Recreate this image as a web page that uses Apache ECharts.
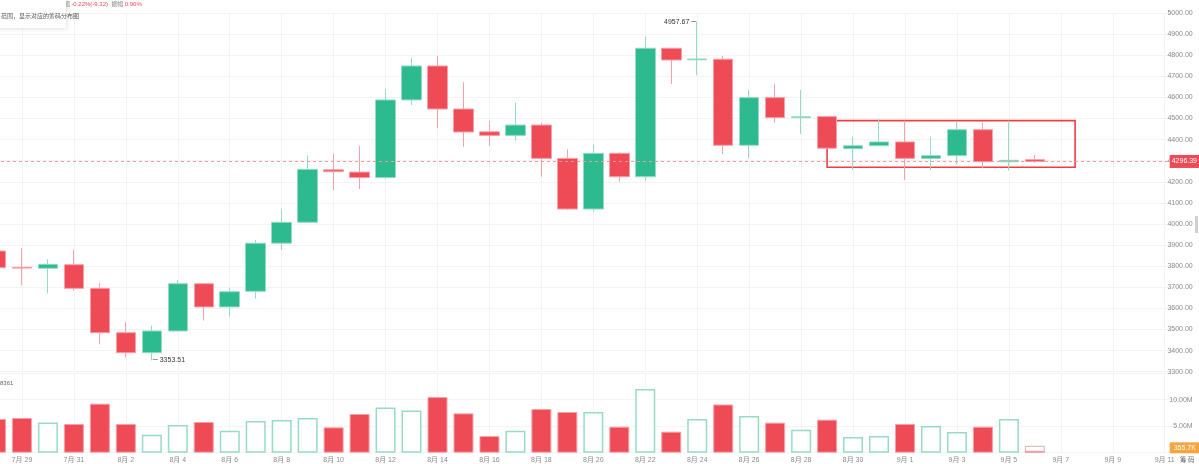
<!DOCTYPE html>
<html>
<head>
<meta charset="utf-8">
<script src="https://cdn.jsdelivr.net/npm/echarts@6/dist/echarts.min.js"></script>
<style>
html,body{margin:0;padding:0;background:#fff;}
#main{width:1199px;height:464px;}
</style>
</head>
<body>
<div id="main"></div>
<script>
// ---- data ----
const categories = [
  '7月 28','7月 29','7月 30','7月 31',
  '8月 1','8月 2','8月 3','8月 4','8月 5','8月 6','8月 7','8月 8','8月 9','8月 10',
  '8月 11','8月 12','8月 13','8月 14','8月 15','8月 16','8月 17','8月 18','8月 19','8月 20',
  '8月 21','8月 22','8月 23','8月 24','8月 25','8月 26','8月 27','8月 28','8月 29','8月 30','8月 31',
  '9月 1','9月 2','9月 3','9月 4','9月 5','9月 6','9月 7','9月 8','9月 9','9月 10','9月 11'
];
// open, close, low, high
const opens  = [3872,3795,3790,3807,3695,3485,3390,3493,3717,3607,3681,3909,4008,4257,4246,4220,4588,4749,4545,4437,4420,4469,4311,4071,4335,4224,4833,4778,4781,4373,4599,4504,4509,4357,4371,4389,4311,4324,4447,4295,4305];
const closes = [3793,3791,3809,3695,3485,3390,3493,3717,3607,3679,3909,4008,4259,4248,4220,4588,4749,4545,4436,4420,4469,4311,4071,4335,4224,4833,4777,4782,4373,4599,4504,4508,4359,4371,4389,4311,4324,4447,4295,4302,4296.39];
const lows   = [3780,3711,3670,3683,3430,3368,3353.51,3490,3542,3561,3646,3877,4005,4161,4166,4212,4564,4454,4366,4371,4395,4224,4066,4058,4201,4205,4664,4705,4332,4311,4480,4427,4355,4256,4369,4209,4256,4283,4264,4253,4289];
const highs  = [3890,3885,3833,3877,3719,3534,3518,3735,3720,3697,3924,4070,4326,4332,4370,4640,4785,4796,4672,4488,4575,4480,4354,4376,4340,4888,4835,4957.67,4796,4635,4664,4635,4512,4414,4498,4490,4414,4488,4479,4490,4327];
// volume (shares)
const volumes = [6.36e6,6.55e6,5.72e6,5.42e6,9.25e6,5.42e6,3.40e6,5.22e6,5.79e6,4.15e6,5.98e6,6.17e6,6.55e6,4.78e6,7.30e6,8.55e6,7.98e6,10.50e6,7.42e6,3.15e6,4.15e6,8.24e6,7.68e6,7.68e6,4.90e6,12.00e6,3.96e6,6.36e6,9.10e6,6.92e6,5.66e6,4.34e6,6.23e6,2.96e6,3.15e6,5.42e6,5.04e6,3.90e6,4.90e6,6.36e6,355.7e3];
const estVolumeIndex = [40];
const estVolumeValue = [1.32e6];
const priceTicks = [3300, 5000, 100];
const volumeTicks = [0, 15e6, 5e6];
const lastPrice = [4296.39];
const lastVolume = [355.7e3];
const boxX = [32, 41.55];
const boxY = [4490, 4269];

// ---- styles ----
const RED = '#ef4b57', RED_L = '#f6a0a8';
const GREEN = '#2dba8f', GREEN_L = '#96dcc5';
const GRID_LINE = '#f3f3f3';
const LABEL = '#8c8c8c';
const FONT = 'Liberation Sans, Noto Sans CJK SC, sans-serif';

const candleData = opens.map((o, i) => [o, closes[i], lows[i], highs[i]]);
const volData = volumes.map((v, i) => {
  const up = closes[i] >= opens[i];
  return {
    value: v,
    itemStyle: up
      ? { color: '#ffffff', borderColor: GREEN_L, borderWidth: 1.5 }
      : { color: RED, borderColor: RED_L, borderWidth: 1 }
  };
});
const estData = categories.map((c, i) => {
  const k = estVolumeIndex.indexOf(i);
  return k >= 0 ? estVolumeValue[k] : '-';
});

const maxHigh = Math.max(...highs);
const minLow = Math.min(...lows);
const maxIdx = highs.indexOf(maxHigh);
const minIdx = lows.indexOf(minLow);

const oddOnly = (idx) => idx % 2 === 1;

const chart = echarts.init(document.getElementById('main'), null, { renderer: 'canvas' });
const option = {
  animation: false,
  textStyle: { fontFamily: FONT },
  grid: [
    { left: -17, right: 21.3, top: 13, height: 358.7, containLabel: false, outerBoundsMode: 'none' },
    { left: -17, right: 21.3, top: 373.2, height: 79.5, containLabel: false, outerBoundsMode: 'none' }
  ],
  xAxis: [
    { type: 'category', gridIndex: 0, data: categories, boundaryGap: true,
      axisLine: { show: false }, axisTick: { show: false }, axisLabel: { show: false },
      splitLine: { show: true, interval: oddOnly, alignWithLabel: true, lineStyle: { color: GRID_LINE } } },
    { type: 'category', gridIndex: 1, data: categories, boundaryGap: true,
      axisLine: { show: false }, axisTick: { show: false },
      axisLabel: { interval: oddOnly, fontSize: 7, color: LABEL, margin: 4, fontFamily: FONT },
      splitLine: { show: true, interval: oddOnly, alignWithLabel: true, lineStyle: { color: GRID_LINE } } },
    { type: 'value', gridIndex: 0, min: -0.5, max: categories.length - 0.5, show: false, position: 'top' }
  ],
  yAxis: [
    { type: 'value', gridIndex: 0, position: 'right', min: priceTicks[0], max: priceTicks[1], interval: priceTicks[2],
      axisLine: { show: false }, axisTick: { show: false },
      axisLabel: { fontSize: 7, color: LABEL, align: 'right', margin: 15, formatter: v => v.toFixed(2) },
      splitLine: { lineStyle: { color: GRID_LINE } } },
    { type: 'value', gridIndex: 1, position: 'right', min: volumeTicks[0], max: volumeTicks[1], interval: volumeTicks[2],
      axisLine: { show: false }, axisTick: { show: false },
      axisLabel: { fontSize: 7, color: LABEL, align: 'right', margin: 15, showMinLabel: false, showMaxLabel: false,
        formatter: v => (v / 1e6).toFixed(2) + 'M' },
      splitLine: { lineStyle: { color: GRID_LINE } } }
  ],
  series: [
    {
      type: 'candlestick', xAxisIndex: 0, yAxisIndex: 0, data: candleData, barWidth: 20,
      itemStyle: { color: GREEN, color0: RED, borderColor: GREEN_L, borderColor0: RED_L, borderWidth: 1 },
      markLine: {
        silent: true, symbol: ['none', 'none'],
        lineStyle: { color: '#f29aa1', type: [3, 3], width: 1 },
        label: { position: 'end', distance: -8, formatter: v => v.value.toFixed(2), color: '#fff',
          backgroundColor: RED, fontSize: 7, padding: [3, 2], fontFamily: FONT },
        data: [{ yAxis: lastPrice[0] }]
      },
      markPoint: {
        symbol: 'circle', symbolSize: 0,
        data: [
          { coord: [maxIdx, maxHigh], value: maxHigh,
            label: { show: true, position: 'left', distance: 1, formatter: maxHigh.toFixed(2) + ' \u2500', color: '#333', fontSize: 7 } },
          { coord: [minIdx, minLow], value: minLow,
            label: { show: true, position: 'right', distance: 1, formatter: '\u2500 ' + minLow.toFixed(2), color: '#333', fontSize: 7 } }
        ]
      }
    },
    {
      name: 'est', type: 'bar', xAxisIndex: 1, yAxisIndex: 1, data: estData, barWidth: 20, barGap: '-100%',
      itemStyle: { color: '#ffffff', borderColor: '#dcc0c2', borderWidth: 1.2 }
    },
    {
      name: 'vol', type: 'bar', xAxisIndex: 1, yAxisIndex: 1, data: volData, barWidth: 20, barGap: '-100%',
      markLine: {
        silent: true, symbol: ['none', 'none'],
        lineStyle: { color: 'rgba(0,0,0,0)', width: 0 },
        label: { show: true, position: 'end', distance: -8, formatter: '355.7K', color: '#fff',
          backgroundColor: '#f5a53f', fontSize: 7, padding: [2, 4], fontFamily: FONT, offset: [0, -3] },
        data: [{ yAxis: lastVolume[0] }]
      }
    },
    {
      type: 'line', xAxisIndex: 2, yAxisIndex: 0, data: [[boxX[0], boxY[0]]], showSymbol: false, symbolSize: 0,
      lineStyle: { opacity: 0 }, silent: true,
      markArea: {
        silent: true,
        itemStyle: { color: 'rgba(0,0,0,0)', borderColor: '#ee3d45', borderWidth: 1.6 },
        data: [[{ coord: [boxX[0], boxY[0]] }, { coord: [boxX[1], boxY[1]] }]]
      }
    }
  ],
  graphic: [
    { type: 'rect', left: -6, top: -6, shape: { width: 72, height: 34 }, z: 100,
      style: { fill: '#fff', shadowBlur: 5, shadowColor: 'rgba(0,0,0,0.18)' } },
    { type: 'text', left: 1, top: 13, z: 101,
      style: { text: '范围，显示对应的筹码分布图', fontSize: 6, fill: '#555', fontFamily: 'Noto Sans CJK SC' } },
    { type: 'text', left: 64, top: 1, z: 99,
      style: { text: '{g|幅 }{r|-0.22%(-9.32)}  {g|振幅 }{r|0.90%}', fontSize: 6,
        rich: { g: { fill: '#888', fontSize: 6, fontFamily: 'Noto Sans CJK SC' }, r: { fill: RED, fontSize: 6 } } } },
    { type: 'text', left: 0, top: 380, style: { text: '8361', fontSize: 6, fill: '#666' } },
    { type: 'text', left: 1180, top: 456, z: 200, style: { text: '筹 码', fontSize: 6.5, fill: '#666', fontFamily: 'Noto Sans CJK SC' } },
    { type: 'rect', left: 1195, top: 216, shape: { width: 3, height: 17 }, style: { fill: '#d0d0d0' } }
  ]
};
chart.setOption(option);
</script>
</body>
</html>
